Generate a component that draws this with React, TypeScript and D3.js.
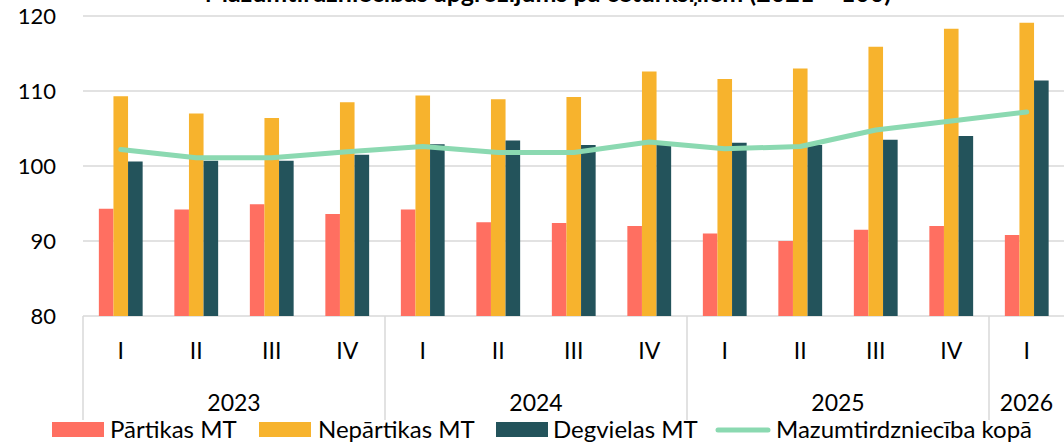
import React, { useEffect, useRef } from 'react';
import * as d3 from 'd3';

const quarters = ['I', 'II', 'III', 'IV', 'I', 'II', 'III', 'IV', 'I', 'II', 'III', 'IV', 'I'];
const years = [
  { label: '2023', span: 4 },
  { label: '2024', span: 4 },
  { label: '2025', span: 4 },
  { label: '2026', span: 1 },
];
const partikas = [94.3, 94.2, 94.9, 93.6, 94.2, 92.5, 92.4, 92.0, 91.0, 90.0, 91.5, 92.0, 90.8];
const neparTikas = [109.3, 107.0, 106.4, 108.5, 109.4, 108.9, 109.2, 112.6, 111.6, 113.0, 115.9, 118.3, 119.1];
const degvielas = [100.6, 100.7, 100.7, 101.5, 102.9, 103.4, 102.8, 102.9, 103.1, 102.8, 103.5, 104.0, 111.4];
const kopa = [102.2, 101.1, 101.1, 101.9, 102.6, 101.8, 101.8, 103.2, 102.3, 102.6, 104.8, 106.0, 107.2];
const yTicks = [80, 90, 100, 110, 120];

const seriesNames = ['Pārtikas MT', 'Nepārtikas MT', 'Degvielas MT'];
const colors = ['#FF6F61', '#F7B32D', '#23535B'];
const lineName = 'Mazumtirdzniecība kopā';
const lineColor = '#8BD9B1';
const title = 'Mazumtirdzniecības apgrozījums pa ceturkšņiem (2021 = 100)';

const W = 1064;
const H = 443;
const FONT = 'Lato, "Noto Sans", sans-serif';

const App = () => {
  const svgRef = useRef<SVGSVGElement>(null);

  useEffect(() => {
    const svg = d3.select(svgRef.current);
    svg.selectAll('*').remove();

    const idx = d3.range(quarters.length);
    const x = d3.scaleBand<number>().domain(idx).range([83, 83 + 13 * 75.5]).padding(0);
    const y = d3.scaleLinear().domain([80, 120]).range([316, 16]);
    const groupW = x.bandwidth() * 0.58;
    const inner = d3.scaleBand<number>().domain([0, 1, 2]).range([0, groupW]).padding(0);
    const groupOff = (x.bandwidth() - groupW) / 2;

    // title, cut off at the top like in the source image
    svg.append('text')
      .attr('x', 548).attr('y', 2)
      .attr('text-anchor', 'middle')
      .attr('font-family', FONT).attr('font-weight', 'bold').attr('font-size', 25)
      .text(title);

    // grid
    svg.append('g').selectAll('line').data(yTicks).join('line')
      .attr('x1', 83).attr('x2', W)
      .attr('y1', d => y(d)).attr('y2', d => y(d))
      .attr('stroke', '#D9D9D9').attr('stroke-width', 1.5);

    svg.append('g').selectAll('text').data(yTicks).join('text')
      .attr('x', 56).attr('y', d => y(d))
      .attr('dy', '0.35em').attr('text-anchor', 'end')
      .attr('font-family', FONT).attr('font-size', 22).attr('fill', '#000')
      .text(d => d);

    // bars
    const data = [partikas, neparTikas, degvielas];
    data.forEach((vals, s) => {
      svg.append('g').selectAll('rect').data(vals).join('rect')
        .attr('x', (d, i) => (x(i) as number) + groupOff + (inner(s) as number))
        .attr('width', inner.bandwidth())
        .attr('y', d => y(d))
        .attr('height', d => y(80) - y(d))
        .attr('fill', colors[s]);
    });

    // total line
    const line = d3.line<number>()
      .x((d, i) => (x(i) as number) + x.bandwidth() / 2)
      .y(d => y(d));
    svg.append('path')
      .attr('d', line(kopa))
      .attr('fill', 'none').attr('stroke', lineColor)
      .attr('stroke-width', 5).attr('stroke-linejoin', 'round').attr('stroke-linecap', 'round');

    // category axis
    svg.append('g').selectAll('text').data(quarters).join('text')
      .attr('x', (d, i) => (x(i) as number) + x.bandwidth() / 2)
      .attr('y', 351).attr('dy', '0.35em').attr('text-anchor', 'middle')
      .attr('font-family', FONT).attr('font-size', 23)
      .text(d => d);

    let start = 0;
    const bounds = [0];
    years.forEach(yr => {
      const x0 = x(start) as number;
      const x1 = x0 + yr.span * x.bandwidth();
      svg.append('text')
        .attr('x', (x0 + Math.min(x1, W)) / 2)
        .attr('y', 403).attr('dy', '0.35em').attr('text-anchor', 'middle')
        .attr('font-family', FONT).attr('font-size', 23)
        .text(yr.label);
      start += yr.span;
      bounds.push(start);
    });
    svg.append('g').selectAll('line').data(bounds.filter(b => b < quarters.length)).join('line')
      .attr('x1', b => x(b) as number).attr('x2', b => x(b) as number)
      .attr('y1', 316).attr('y2', 420)
      .attr('stroke', '#D9D9D9').attr('stroke-width', 1.5);

    // legend
    const legendItems = [
      { name: seriesNames[0], color: colors[0], x: 52, tx: 110, kind: 'rect' },
      { name: seriesNames[1], color: colors[1], x: 259, tx: 318, kind: 'rect' },
      { name: seriesNames[2], color: colors[2], x: 496, tx: 553, kind: 'rect' },
      { name: lineName, color: lineColor, x: 716, tx: 776, kind: 'line' },
    ];
    const lg = svg.append('g');
    legendItems.forEach(it => {
      if (it.kind === 'rect') {
        lg.append('rect').attr('x', it.x).attr('y', 422).attr('width', 52).attr('height', 15).attr('fill', it.color);
      } else {
        lg.append('line').attr('x1', it.x + 2).attr('x2', it.x + 52).attr('y1', 430).attr('y2', 430)
          .attr('stroke', it.color).attr('stroke-width', 5).attr('stroke-linecap', 'round');
      }
      lg.append('text').attr('x', it.tx).attr('y', 430).attr('dy', '0.35em')
        .attr('font-family', FONT).attr('font-size', 24)
        .text(it.name);
    });
  }, []);

  return (
    <svg
      ref={svgRef}
      width={W}
      height={H}
      style={{ position: 'absolute', left: 0, top: 0, display: 'block', background: '#fff' }}
    />
  );
};

export default App;
